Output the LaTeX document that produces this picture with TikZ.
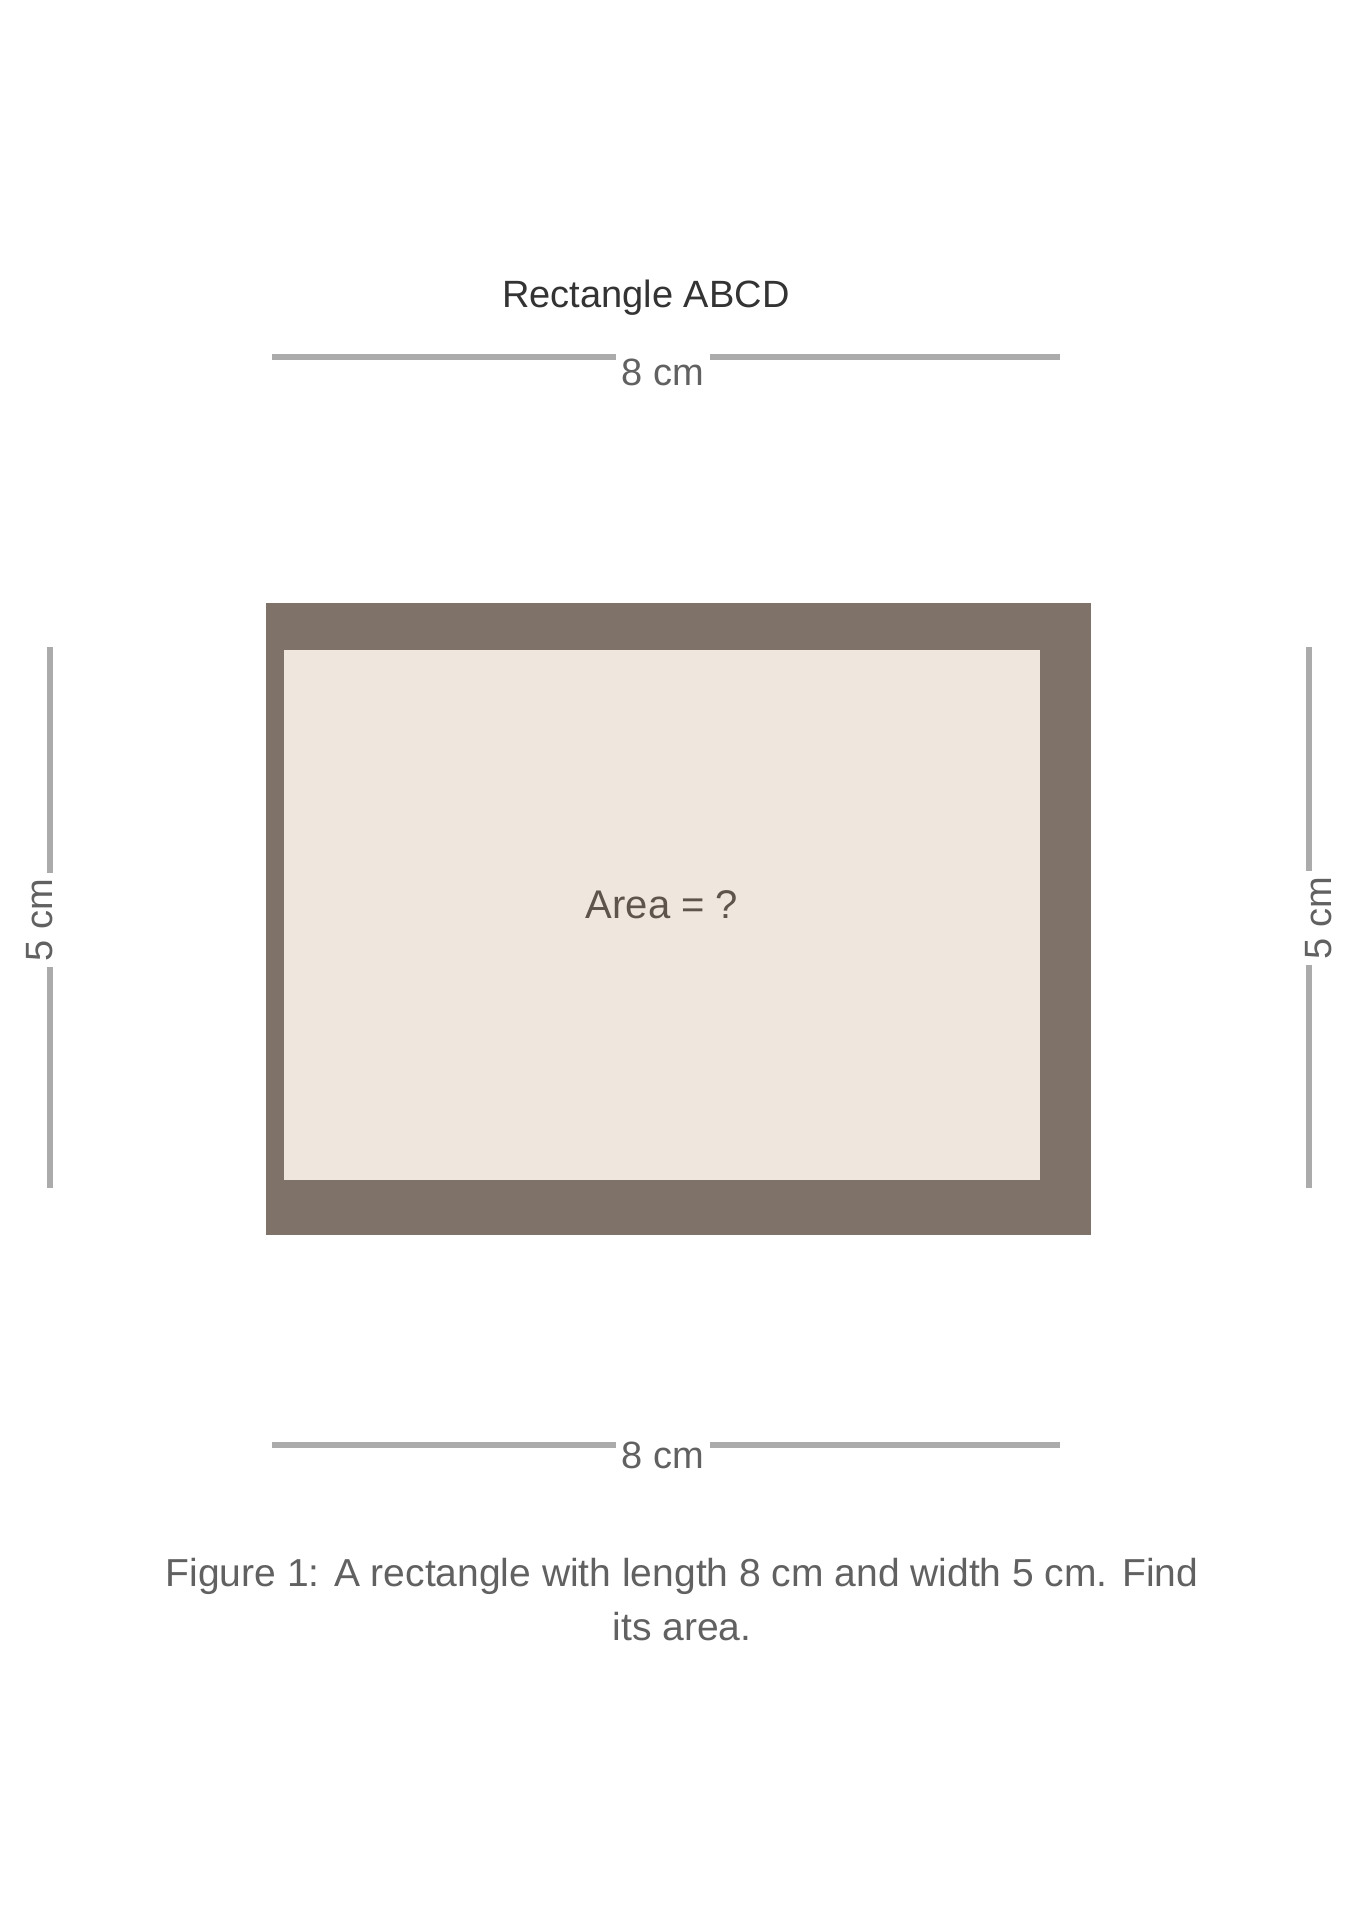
\documentclass[tikz,border=0pt]{standalone}
\usepackage{fontspec}
\setmainfont{Liberation Sans}
\definecolor{framedark}{RGB}{127,114,104}
\definecolor{framefill}{RGB}{239,231,221}
\definecolor{boxtext}{RGB}{95,84,76}
\begin{document}
\begin{tikzpicture}[x=0.5pt,y=-0.5pt,
  dimline/.style={draw=black!33, line width=3pt},
  dimlabel/.style={font=\fontsize{19}{22}\selectfont, text=black!62, fill=white, inner sep=3pt},
  titlelabel/.style={font=\fontsize{19}{22}\selectfont, text=black!80},
  boxlabel/.style={font=\fontsize{20}{24}\selectfont, text=boxtext},
  caption/.style={font=\fontsize{19.5}{27}\selectfont, text=black!62, align=center}]
\useasboundingbox (0,0) rectangle (1358,1920);
\fill[white] (0,0) rectangle (1358,1920);
% frame
\fill[framedark] (266,603) rectangle (1091,1235);
\fill[framefill] (284,650) rectangle (1040,1180);
\node[boxlabel] (area) at (662,905) {Area = ?};
% title
\node[titlelabel] (title) at (646,298) {Rectangle ABCD};
% top dimension
\coordinate (tA) at (272,357);
\coordinate (tB) at (1060,357);
\draw[dimline] (tA) -- (tB);
\node[dimlabel] (tlab) at (663,372) {8 cm};
% bottom dimension
\coordinate (bA) at (272,1445);
\coordinate (bB) at (1060,1445);
\draw[dimline] (bA) -- (bB);
\node[dimlabel] (blab) at (663,1455) {8 cm};
% left dimension
\coordinate (lA) at (50,647);
\coordinate (lB) at (50,1188);
\draw[dimline] (lA) -- (lB);
\node[dimlabel, rotate=90] (llab) at (40,920) {5 cm};
% right dimension
\coordinate (rA) at (1309,647);
\coordinate (rB) at (1309,1188);
\draw[dimline] (rA) -- (rB);
\node[dimlabel, rotate=90] (rlab) at (1319,918) {5 cm};
% caption
\node[caption] (cap) at (682,1600) {Figure 1: A rectangle with length 8 cm and width 5 cm. Find\\its area.};
\end{tikzpicture}
\end{document}
